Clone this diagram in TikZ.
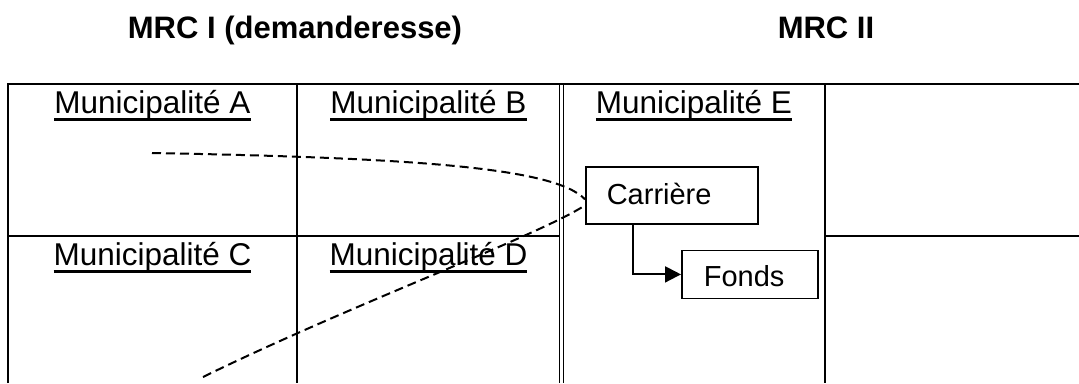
\documentclass[tikz,border=0pt]{standalone}
\usepackage{fontspec}
\setmainfont{Liberation Sans}
\usetikzlibrary{arrows.meta, positioning}
\colorlet{TableLine}{black}
\colorlet{TrackLine}{black}
\newcommand{\munline}[1]{\setbox0=\hbox{#1}\rlap{\rule[-7.5pt]{\wd0}{3pt}}\box0}

\begin{document}
\begin{tikzpicture}[x=1pt, y=-1pt,
    heading/.style={anchor=base, font=\fontsize{31}{36}\selectfont\bfseries},
    munlabel/.style={anchor=base, font=\fontsize{31.5}{36}\selectfont},
    tableline/.style={TableLine, line width=2.6pt},
    thinline/.style={TableLine, line width=1.3pt},
    textbox/.style={draw, line width=1.6pt, anchor=north west, inner ysep=0pt,
        align=left, font=\fontsize{29}{34}\selectfont},
    track/.style={TrackLine, line width=2pt, dash pattern=on 9pt off 5pt}]

    % Background
    \path[use as bounding box, fill=white] (0,0) rectangle (1079,383);

    % Titles
    \node[heading] (mrcI) at (295,38) {MRC I (demanderesse)};
    \node[heading] (mrcII) at (826,38) {MRC II};

    % Table
    \draw[tableline] (8,383) -- (8,84) -- (1079,84);
    \draw[tableline] (297,84) -- (297,383);
    \draw[tableline] (825,84) -- (825,383);
    \draw[thinline] (559.3,84) -- (559.3,383);
    \draw[thinline] (563.3,84) -- (563.3,383);
    \draw[tableline] (8,236) -- (559.3,236);
    \draw[tableline] (825,236) -- (1079,236);

    % Municipalities
    \foreach \name/\x/\y in {A/152.5/113, B/428.5/113, C/152.5/265, D/428.5/265, E/694/113}
        \node[munlabel] (mun\name) at (\x,\y) {\munline{Municipalité \name}};

    % Carriere and fonds
    \node[textbox, minimum width=172pt, minimum height=57pt, text width=130pt,
        inner xsep=21pt, text height=24pt, text depth=6pt] (carriere) at (585,166) {Carrière};
    \node[textbox, minimum width=136pt, minimum height=48pt, text width=92pt,
        inner xsep=22pt, text height=28pt, text depth=3pt,
        below right=25pt and 96pt of carriere.south west] (fonds) {Fonds};
    \draw[line width=2pt, -{Triangle[length=16pt, width=16pt]}]
        ([xshift=48pt]carriere.south west) |- (fonds.west);

    % Tracks
    \coordinate (trackA) at (152,153);
    \coordinate (trackC) at (203,377);
    \draw[track] (trackA) .. controls (420,158) and (555,168) .. ([yshift=-4pt]carriere.west);
    \draw[track] (trackC) .. controls (350,305) and (540,235) .. ([yshift=-10pt]carriere.west);

\end{tikzpicture}
\end{document}
